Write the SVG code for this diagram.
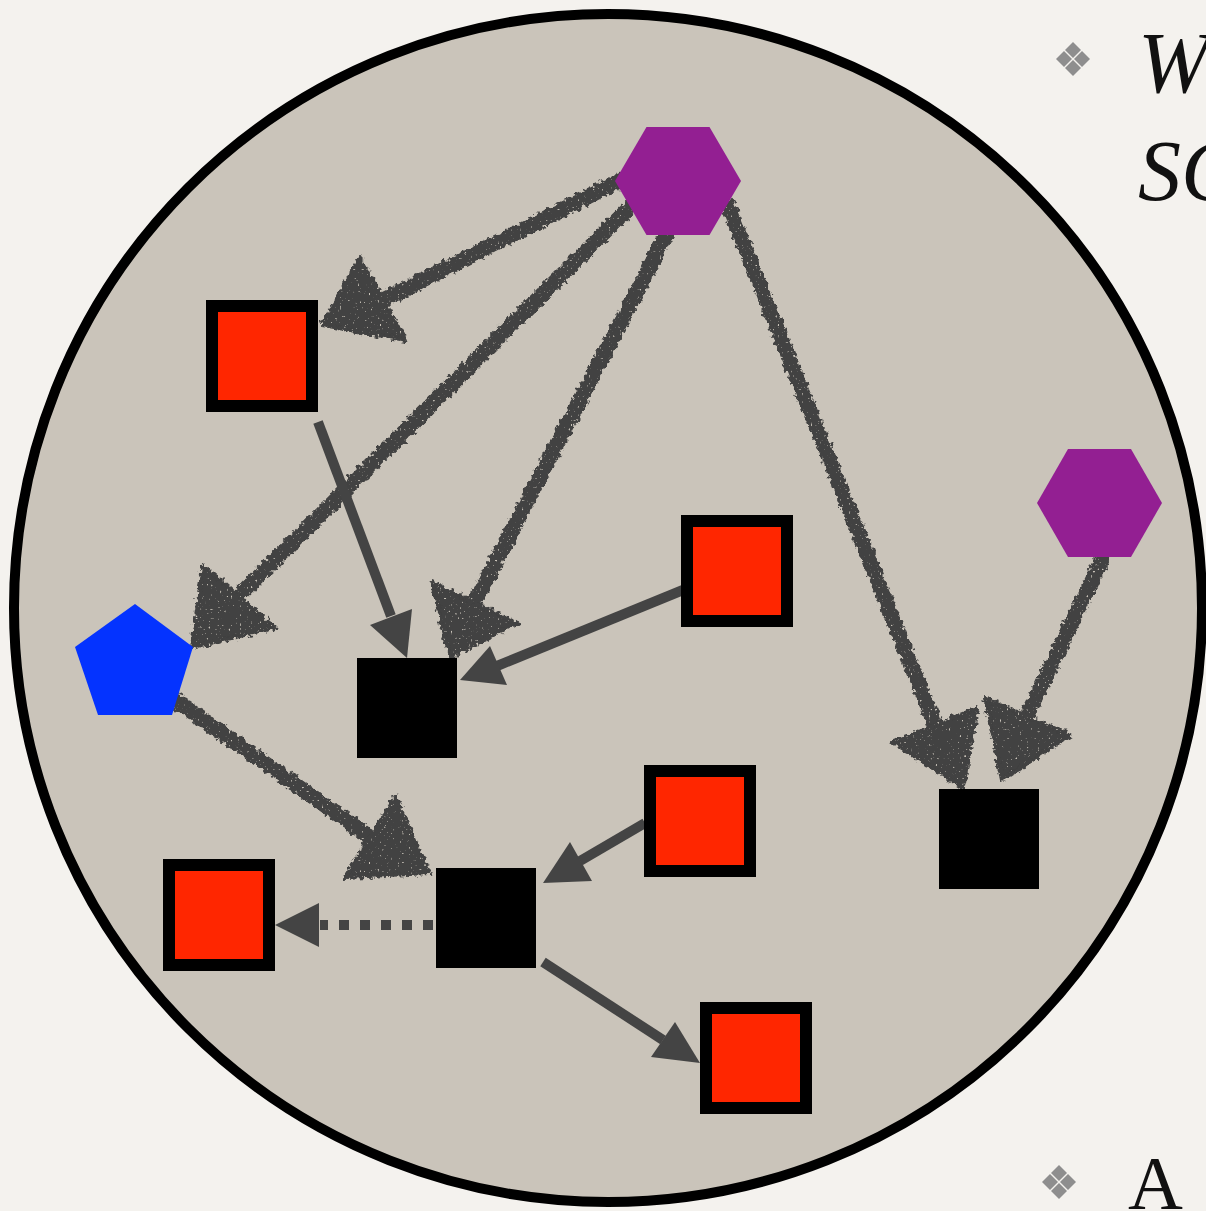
<svg xmlns="http://www.w3.org/2000/svg" width="1206" height="1211" viewBox="0 0 1206 1211">
<defs>
<style>
.red{fill:#ff2600;stroke:#000;stroke-width:12}
.blk{fill:#000}
.hex{fill:#931f92}
.pent{fill:#0433ff}
.cl{fill:none;stroke:#424242;stroke-width:15;stroke-linecap:round}
.ch{fill:#424242;stroke:#424242;stroke-width:4;stroke-linejoin:round}
.sl{fill:none;stroke:#444;stroke-width:10}
.sh{fill:#444}
.dot{fill:none;stroke:#444;stroke-width:10;stroke-dasharray:10 11}
.bul{fill:#8e8e8e}
.txt{font-family:"Liberation Serif",serif;fill:#111}
</style>
<filter id="chalk" filterUnits="userSpaceOnUse" x="0" y="0" width="1206" height="1211">
<feTurbulence type="fractalNoise" baseFrequency="0.22" numOctaves="2" seed="3" result="n"/>
<feDisplacementMap in="SourceGraphic" in2="n" scale="8" xChannelSelector="R" yChannelSelector="G" result="d"/>
<feTurbulence type="fractalNoise" baseFrequency="0.45" numOctaves="1" seed="9" result="n2"/>
<feColorMatrix in="n2" type="matrix" values="0 0 0 0 0  0 0 0 0 0  0 0 0 0 0  9 0 0 0 -6" result="holes"/>
<feComposite in="d" in2="holes" operator="out"/>
</filter>
<g id="bullet">
<polygon points="0,-17 8,-9 0,-1 -8,-9"/>
<polygon points="-9,-8 -1,0 -9,8 -17,0"/>
<polygon points="9,-8 17,0 9,8 1,0"/>
<polygon points="0,1 8,9 0,17 -8,9"/>
</g>
</defs>
<rect width="1206" height="1211" fill="#f4f2ee"/>
<circle cx="608" cy="608" r="594" fill="#cac4ba" stroke="#000" stroke-width="10"/>
<use href="#bullet" x="1073" y="59" class="bul"/>
<use href="#bullet" x="1059" y="1182" class="bul"/>
<text class="txt" x="1138" y="92" font-size="86" font-style="italic">W</text>
<text class="txt" x="1138" y="200" font-size="86" font-style="italic">SC</text>
<text class="txt" x="1128" y="1209" font-size="76">A</text>
<g id="connectors">
<g id="chalk-arrows" filter="url(#chalk)">
<path class="cl" d="M625,178 L383,300"/>
<polygon class="ch" points="322,325 360,258 406,340"/>
<path class="cl" d="M632,205 L239,596"/>
<polygon class="ch" points="192,647 203,565 275,628"/>
<path class="cl" d="M668,232 L474,603"/>
<polygon class="ch" points="450,657 432,583 517,623"/>
<path class="cl" d="M728,205 L935,725"/>
<polygon class="ch" points="963,788 893,742 977,708"/>
<path class="cl" d="M1102,560 L1027,716"/>
<polygon class="ch" points="1002,780 985,698 1070,735"/>
<path class="cl" d="M175,700 L370,837"/>
<polygon class="ch" points="430,873 345,877 395,797"/>
</g>
<path class="sl" d="M318,422 L391,616"/>
<polygon class="sh" points="407,658 370,625 412,609"/>
<path class="sl" d="M683,590 L497,666"/>
<polygon class="sh" points="460,680 490,646 507,685"/>
<path class="sl" d="M645,823 L580,861"/>
<polygon class="sh" points="543,883 570,842 592,881"/>
<path class="sl" d="M543,962 L663,1040"/>
<polygon class="sh" points="700,1063 675,1022 651,1057"/>
<path class="dot" d="M433,925 L320,925"/>
<polygon class="sh" points="275,925 319,903 319,947"/>
</g>
<g id="hex1"><polygon class="hex" points="615,181 646.5,127 709.5,127 741,181 709.5,235 646.5,235"/></g>
<g id="hex2"><polygon class="hex" points="1037,503 1068,449 1131,449 1162,503 1131,557 1068,557"/></g>
<g id="pentagon"><polygon class="pent" points="135,604 193,647 172,715 98,715 75,647"/></g>
<g id="red1"><rect class="red" x="212" y="306" width="100" height="100"/></g>
<g id="red2"><rect class="red" x="687" y="521" width="100" height="100"/></g>
<g id="red3"><rect class="red" x="650" y="771" width="100" height="100"/></g>
<g id="red4"><rect class="red" x="169" y="865" width="100" height="100"/></g>
<g id="red5"><rect class="red" x="706" y="1008" width="100" height="100"/></g>
<g id="blackA"><rect class="blk" x="357" y="658" width="100" height="100"/></g>
<g id="blackB"><rect class="blk" x="436" y="868" width="100" height="100"/></g>
<g id="blackC"><rect class="blk" x="939" y="789" width="100" height="100"/></g>
</svg>
